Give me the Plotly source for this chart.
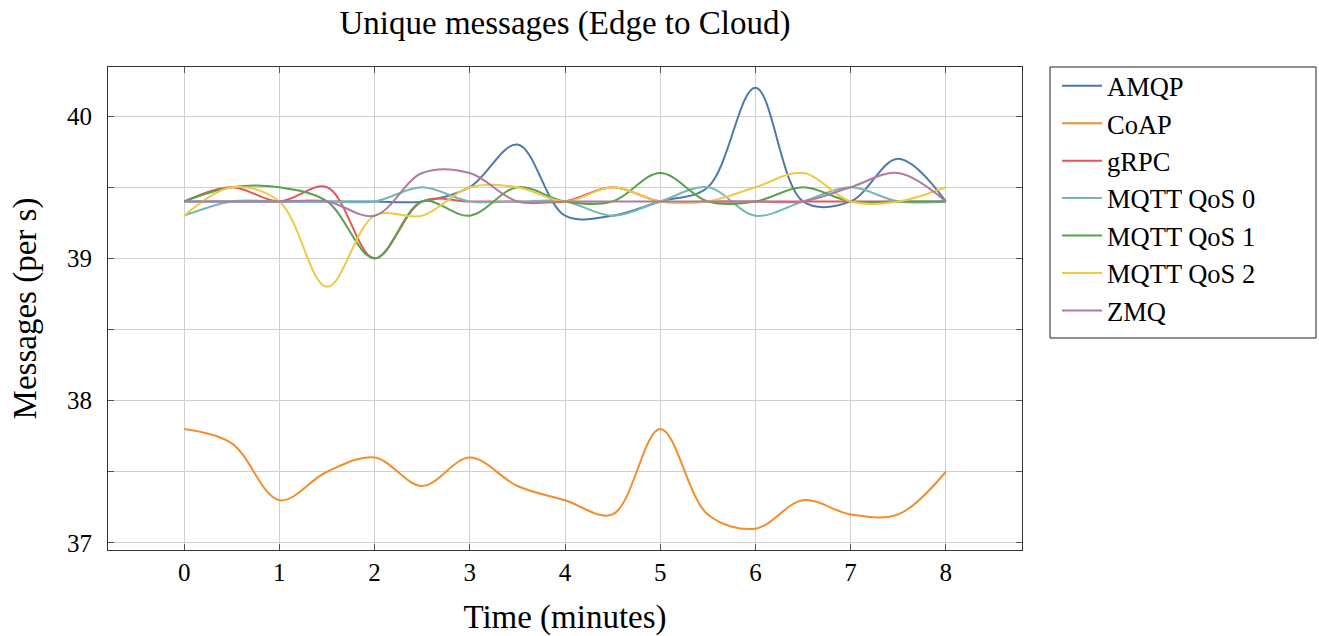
import plotly.graph_objects as go

time = [0, 0.5, 1, 1.5, 2, 2.5, 3, 3.5, 4, 4.5, 5, 5.5, 6, 6.5, 7, 7.5, 8]

amqp = [39.4, 39.4, 39.4, 39.4, 39.4, 39.4, 39.5, 39.8, 39.3, 39.3, 39.4, 39.5, 40.2, 39.4, 39.4, 39.7, 39.4]
coap = [37.8, 37.7, 37.3, 37.5, 37.6, 37.4, 37.6, 37.4, 37.3, 37.2, 37.8, 37.2, 37.1, 37.3, 37.2, 37.2, 37.5]
grpc = [39.4, 39.5, 39.4, 39.5, 39.0, 39.4, 39.4, 39.4, 39.4, 39.5, 39.4, 39.4, 39.4, 39.4, 39.4, 39.4, 39.4]
mqtt0 = [39.3, 39.4, 39.4, 39.4, 39.4, 39.5, 39.4, 39.4, 39.4, 39.3, 39.4, 39.5, 39.3, 39.4, 39.5, 39.4, 39.4]
mqtt1 = [39.4, 39.5, 39.5, 39.4, 39.0, 39.4, 39.3, 39.5, 39.4, 39.4, 39.6, 39.4, 39.4, 39.5, 39.4, 39.4, 39.4]
mqtt2 = [39.3, 39.5, 39.4, 38.8, 39.3, 39.3, 39.5, 39.5, 39.4, 39.5, 39.4, 39.4, 39.5, 39.6, 39.4, 39.4, 39.5]
zmq = [39.4, 39.4, 39.4, 39.4, 39.3, 39.6, 39.6, 39.4, 39.4, 39.4, 39.4, 39.4, 39.4, 39.4, 39.5, 39.6, 39.4]

names = ["AMQP", "CoAP", "gRPC", "MQTT QoS 0", "MQTT QoS 1", "MQTT QoS 2", "ZMQ"]
series = [amqp, coap, grpc, mqtt0, mqtt1, mqtt2, zmq]
colors = ["#4e79a7", "#f28e2b", "#e15759", "#76b7b2", "#59a14f", "#edc948", "#b07aa1"]

y_tickvals = [37, 37.5, 38, 38.5, 39, 39.5, 40]
y_ticktext = ["37", "", "38", "", "39", "", "40"]
x_tickvals = [0, 1, 2, 3, 4, 5, 6, 7, 8]

FONT = "Liberation Serif"
W, H = 1319, 636
L, R, T, B = 108, 297, 67, 86
PW, PH = W - L - R, H - T - B

fig = go.Figure()
for n, s, c in zip(names, series, colors):
    fig.add_trace(go.Scatter(x=time, y=s, name=n, mode="lines",
                             line=dict(color=c, width=2, shape="spline", smoothing=1.0)))

fig.update_layout(
    width=W, height=H,
    margin=dict(l=L, r=R, t=T, b=B, autoexpand=False),
    paper_bgcolor="white", plot_bgcolor="white",
    font=dict(family=FONT, size=25, color="black"),
    title=dict(text="Unique messages (Edge to Cloud)", x=(L + PW / 2) / W, xanchor="center",
               y=1 - 22 / H, yanchor="middle", font=dict(size=33)),
    legend=dict(x=1 + 35 / PW, y=1 + 5 / PH, xanchor="left", yanchor="top",
                borderwidth=0, font=dict(size=26.5), bgcolor="rgba(0,0,0,0)",
                tracegroupgap=0, itemwidth=40),
    showlegend=True,
    shapes=[dict(type="rect", xref="paper", yref="paper",
                 x0=1 + 28 / PW, x1=1 + 294 / PW, y0=1 - 271 / PH, y1=1.0,
                 line=dict(color="#222", width=1))],
)
fig.update_xaxes(range=[-0.8, 8.8], tickvals=x_tickvals, showgrid=True, gridcolor="#cfcfcf",
                 gridwidth=1, zeroline=False, showline=True, linecolor="#333", linewidth=1,
                 mirror="ticks", ticks="inside", ticklen=6, tickcolor="#555", automargin=False,
                 title=dict(text="Time (minutes)", standoff=21, font=dict(size=33)),
                 tickfont=dict(size=25), ticklabelstandoff=0)
fig.update_yaxes(range=[36.95, 40.345], tickvals=y_tickvals, ticktext=y_ticktext, showgrid=True,
                 gridcolor="#cfcfcf", gridwidth=1, zeroline=False, showline=True, linecolor="#333",
                 linewidth=1, mirror="ticks", ticks="inside", ticklen=6, tickcolor="#555",
                 automargin=False,
                 title=dict(text="Messages (per s)", standoff=20, font=dict(size=33)),
                 tickfont=dict(size=25), ticklabelstandoff=10)

fig.write_html("out.html", config={"displayModeBar": False},
               post_script="document.body.style.margin='0px';")
